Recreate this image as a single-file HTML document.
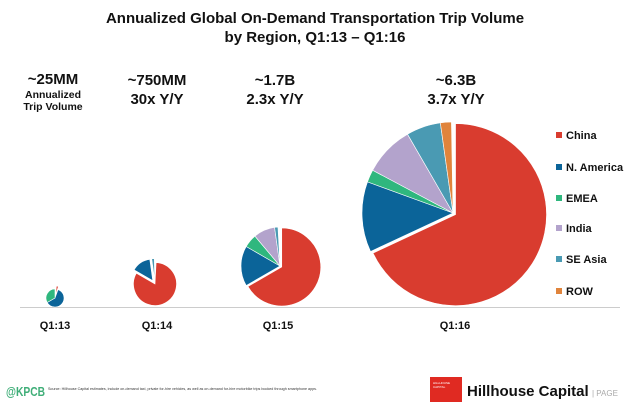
<!DOCTYPE html>
<html><head><meta charset="utf-8"><style>
body{margin:0;width:630px;height:402px;background:#fff;font-family:"Liberation Sans",Arial,sans-serif;overflow:hidden;position:relative}
.t{position:absolute;font-weight:bold;color:#111;text-align:center;white-space:nowrap}
</style></head><body>
<div class="t" style="left:0;width:630px;top:9px;font-size:15px;line-height:19px">Annualized Global On-Demand Transportation Trip Volume<br>by Region, Q1:13 – Q1:16</div>
<div class="t" style="left:13px;width:80px;top:71px;font-size:15px">~25MM</div>
<div class="t" style="left:13px;width:80px;top:89px;font-size:10.5px;line-height:12px">Annualized<br>Trip Volume</div>
<div class="t" style="left:107px;width:100px;top:71px;font-size:15px;line-height:19px">~750MM<br>30x Y/Y</div>
<div class="t" style="left:225px;width:100px;top:71px;font-size:15px;line-height:19px">~1.7B<br>2.3x Y/Y</div>
<div class="t" style="left:406px;width:100px;top:71px;font-size:15px;line-height:19px">~6.3B<br>3.7x Y/Y</div>
<svg id="s" width="630" height="402" style="position:absolute;left:0;top:0">
<line x1="20" y1="307.5" x2="620" y2="307.5" stroke="#ccc" stroke-width="1"/>
<g font-family="Liberation Sans,Arial,sans-serif" font-weight="bold" font-size="11" text-anchor="middle" fill="#111">
<text x="55" y="329">Q1:13</text><text x="157" y="329">Q1:14</text><text x="278" y="329">Q1:15</text><text x="455" y="329">Q1:16</text>
</g>
<g font-family="Liberation Sans,Arial,sans-serif" font-weight="bold" font-size="11" fill="#111">
<rect x="556" y="132" width="6" height="6" fill="#d93c2f"/><text x="566" y="139">China</text>
<rect x="556" y="164" width="6" height="6" fill="#0b6499"/><text x="566" y="171">N. America</text>
<rect x="556" y="195" width="6" height="6" fill="#2fb77e"/><text x="566" y="202">EMEA</text>
<rect x="556" y="225" width="6" height="6" fill="#b3a3cc"/><text x="566" y="232">India</text>
<rect x="556" y="256" width="6" height="6" fill="#4a9ab3"/><text x="566" y="263">SE Asia</text>
<rect x="556" y="288" width="6" height="6" fill="#e0843c"/><text x="566" y="295">ROW</text>
</g>
<g id="p"></g>
<text x="6" y="396" font-family="Liberation Sans,Arial,sans-serif" font-weight="bold" font-size="13" fill="#3fae78" textLength="39" lengthAdjust="spacingAndGlyphs">@KPCB</text>
<text x="48" y="390" font-family="Liberation Sans,Arial,sans-serif" font-size="3.6" fill="#333" textLength="269" lengthAdjust="spacingAndGlyphs">Source: Hillhouse Capital estimates, include on-demand taxi, private for-hire vehicles, as well as on-demand for-hire motorbike trips booked through smartphone apps.</text>
<rect x="430" y="377" width="32" height="25" fill="#e02a22"/>
<text x="433" y="384" font-family="Liberation Sans,Arial,sans-serif" font-size="3" fill="#fff">HILLHOUSE</text>
<text x="433" y="388" font-family="Liberation Sans,Arial,sans-serif" font-size="3" fill="#fff">CAPITAL</text>
<text x="467" y="396" font-family="Liberation Sans,Arial,sans-serif" font-weight="bold" font-size="15" fill="#111">Hillhouse Capital</text>
<text x="592" y="396" font-family="Liberation Sans,Arial,sans-serif" font-size="8" fill="#aaa">|  PAGE</text>
</svg>
<script>
var C={r:"#d93c2f",b:"#0b6499",g:"#2fb77e",p:"#b3a3cc",t:"#4a9ab3",o:"#e0843c"};
var g=document.getElementById("p"),h="";
function sl(cx,cy,r,a0,a1,c,ex){var m=(a0+a1)/2*Math.PI/180;cx+=Math.sin(m)*(ex||0);cy-=Math.cos(m)*(ex||0);
function pt(a){a=a*Math.PI/180;return (cx+r*Math.sin(a)).toFixed(2)+","+(cy-r*Math.cos(a)).toFixed(2)}
h+='<path d="M'+cx+','+cy+' L'+pt(a0)+' A'+r+','+r+' 0 '+((a1-a0)>180?1:0)+' 1 '+pt(a1)+' Z" fill="'+c+'" stroke="#fff" stroke-width="0.6"/>';}
sl(453,213,91,0,245,C.r,3);sl(453,213,91,245,290,C.b);sl(453,213,91,290,298,C.g);sl(453,213,91,298,330,C.p);sl(453,213,91,330,352,C.t);sl(453,213,91,352,359,C.o);
sl(280,266,39,0,240,C.r,2);sl(280,266,39,240,300,C.b);sl(280,266,39,300,320,C.g);sl(280,266,39,320,352,C.p);sl(280,266,39,352,357,C.t);
sl(155,284,21.5,3,300,C.r);sl(155,284,21.5,300,352,C.b,4);sl(155,284,21.5,352,359,C.t,4);
sl(55,298,9,20,240,C.b);sl(55,298,9,240,360,C.g);sl(55,298,9,5,18,C.r,3);
g.innerHTML=h;
</script>
</body></html>
